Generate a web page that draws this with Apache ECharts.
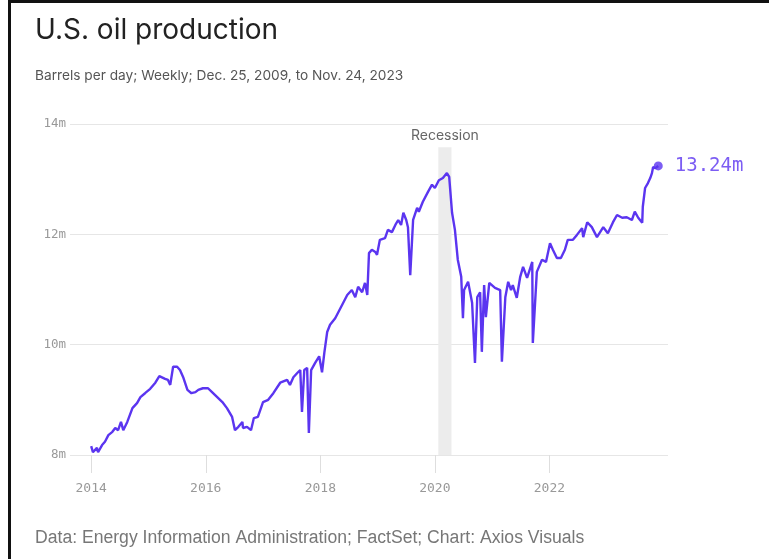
<!DOCTYPE html>
<html>
<head>
<meta charset="utf-8">
<title>U.S. oil production</title>
<script src="https://cdn.jsdelivr.net/npm/echarts@6/dist/echarts.min.js"></script>
<style>
    html, body { margin: 0; padding: 0; background: #fff; }
    #echart_show { width: 769px; height: 559px; }
</style>
</head>
<body>
<div id="echart_show"></div>
<script>
// weekly points (decimal year, million barrels per day)
var weekYears = [
    2014.00, 2014.03, 2014.10, 2014.12, 2014.19, 2014.24, 2014.30, 2014.37, 2014.42, 2014.47,
    2014.52, 2014.56, 2014.63, 2014.66, 2014.72, 2014.80, 2014.86, 2014.94, 2015.03, 2015.12,
    2015.19, 2015.29, 2015.34, 2015.38, 2015.43, 2015.50, 2015.55, 2015.61, 2015.68, 2015.75,
    2015.82, 2015.87, 2015.95, 2016.04, 2016.11, 2016.20, 2016.29, 2016.37, 2016.46, 2016.51,
    2016.57, 2016.64, 2016.65, 2016.72, 2016.79, 2016.84, 2016.91, 2017.00, 2017.09, 2017.18,
    2017.30, 2017.42, 2017.47, 2017.53, 2017.61, 2017.65, 2017.68, 2017.72, 2017.77, 2017.80,
    2017.84, 2017.91, 2017.98, 2018.03, 2018.07, 2018.12, 2018.17, 2018.26, 2018.38, 2018.47,
    2018.55, 2018.61, 2018.66, 2018.73, 2018.78, 2018.82, 2018.85, 2018.90, 2018.96, 2018.99,
    2019.04, 2019.13, 2019.18, 2019.25, 2019.31, 2019.36, 2019.41, 2019.45, 2019.50, 2019.53,
    2019.57, 2019.62, 2019.69, 2019.72, 2019.79, 2019.88, 2019.95, 2020.00, 2020.07, 2020.14,
    2020.21, 2020.25, 2020.30, 2020.35, 2020.40, 2020.46, 2020.49, 2020.51, 2020.58, 2020.65,
    2020.70, 2020.74, 2020.79, 2020.82, 2020.86, 2020.89, 2020.95, 2021.05, 2021.14, 2021.17,
    2021.23, 2021.28, 2021.33, 2021.36, 2021.43, 2021.49, 2021.54, 2021.61, 2021.70, 2021.71,
    2021.78, 2021.87, 2021.94, 2022.01, 2022.06, 2022.13, 2022.20, 2022.27, 2022.32, 2022.41,
    2022.48, 2022.57, 2022.59, 2022.66, 2022.74, 2022.83, 2022.94, 2023.02, 2023.11, 2023.18,
    2023.27, 2023.35, 2023.44, 2023.49, 2023.55, 2023.62, 2023.63, 2023.67, 2023.72, 2023.76,
    2023.79, 2023.81, 2023.85, 2023.90
];
var barrels = [
    8.16, 8.05, 8.13, 8.05, 8.18, 8.24, 8.36, 8.42, 8.49, 8.45,
    8.60, 8.45, 8.60, 8.63, 8.85, 8.94, 9.05, 9.12, 9.20, 9.31,
    9.43, 9.38, 9.36, 9.27, 9.60, 9.60, 9.54, 9.40, 9.18, 9.12,
    9.14, 9.18, 9.21, 9.21, 9.14, 9.05, 8.96, 8.85, 8.69, 8.45,
    8.51, 8.60, 8.49, 8.51, 8.45, 8.67, 8.69, 8.96, 9.00, 9.12,
    9.31, 9.36, 9.27, 9.41, 9.50, 9.54, 8.78, 9.54, 9.58, 8.40,
    9.54, 9.67, 9.79, 9.50, 9.85, 10.23, 10.36, 10.48, 10.72, 10.90,
    10.99, 10.86, 11.05, 10.95, 11.12, 10.90, 11.66, 11.72, 11.68, 11.63,
    11.90, 11.93, 12.08, 12.04, 12.17, 12.26, 12.17, 12.39, 12.26, 12.13,
    11.26, 12.26, 12.48, 12.41, 12.59, 12.77, 12.90, 12.84, 12.98, 13.02,
    13.11, 13.04, 12.39, 12.08, 11.54, 11.23, 10.48, 10.99, 11.14, 10.76,
    9.67, 10.86, 10.95, 9.87, 11.08, 10.50, 11.12, 11.03, 10.99, 9.69,
    10.86, 11.14, 10.99, 11.08, 10.85, 11.23, 11.41, 11.21, 11.50, 10.03,
    11.32, 11.54, 11.50, 11.84, 11.72, 11.57, 11.57, 11.72, 11.90, 11.90,
    11.99, 12.11, 11.95, 12.22, 12.13, 11.95, 12.13, 12.02, 12.22, 12.35,
    12.30, 12.31, 12.26, 12.41, 12.30, 12.21, 12.50, 12.84, 12.93, 13.02,
    13.11, 13.22, 13.20, 13.24
];
var yearTicks = [2014, 2016, 2018, 2020, 2022];
var recession = [2020.06, 2020.29];

var init_echarts = function () {
    var my_chart = echarts.init(document.getElementById('echart_show'), null, {renderer: 'canvas'});
    var purple = '#5b35f0';
    var monoFont = '"DejaVu Sans Mono", monospace';

    var line_data = weekYears.map(function (y, i) {
        return [y, barrels[i]];
    });
    var last = line_data[line_data.length - 1];

    var option = {
        backgroundColor: '#fff',
        animation: false,
        title: [
            {
                text: 'U.S. oil production',
                left: 30, top: 12,
                textStyle: {fontFamily: 'Inter', fontSize: 28, fontWeight: 'normal', color: '#222'}
            },
            {
                text: 'Barrels per day; Weekly; Dec. 25, 2009, to Nov. 24, 2023',
                left: 30, top: 64,
                textStyle: {fontFamily: 'Inter', fontSize: 13.7, fontWeight: 'normal', color: '#555'}
            },
            {
                text: 'Data: Energy Information Administration; FactSet; Chart: Axios Visuals',
                left: 30, top: 524,
                textStyle: {fontFamily: '"Liberation Sans", sans-serif', fontSize: 17.6, fontWeight: 'normal', color: '#777'}
            }
        ],
        graphic: [
            {type: 'rect', shape: {x: 8, y: 0, width: 3, height: 559}, style: {fill: '#111'}},
            {type: 'rect', shape: {x: 8, y: 0, width: 761, height: 3}, style: {fill: '#111'}}
        ],
        grid: {left: 70, right: 101, top: 124, bottom: 104},
        xAxis: {
            type: 'value',
            min: 2013.63,
            max: 2024.07,
            axisLine: {show: false},
            splitLine: {show: false},
            axisTick: {
                show: true,
                customValues: yearTicks,
                length: 18,
                lineStyle: {color: '#dedede'}
            },
            axisLabel: {
                customValues: yearTicks,
                margin: 27,
                fontFamily: monoFont,
                fontSize: 13,
                color: '#999',
                formatter: function (v) { return String(Math.round(v)); }
            }
        },
        yAxis: {
            type: 'value',
            min: 8,
            max: 14,
            interval: 2,
            axisLine: {show: false},
            axisTick: {show: false},
            splitLine: {lineStyle: {color: '#e6e6e6'}},
            axisLabel: {
                margin: 4,
                fontFamily: monoFont,
                fontSize: 12.5,
                color: '#999',
                formatter: function (v) { return v + 'm'; }
            }
        },
        series: [
            {
                name: 'U.S. oil production',
                type: 'line',
                data: line_data,
                showSymbol: false,
                lineStyle: {color: purple, width: 2.4},
                z: 3,
                markArea: {
                    silent: true,
                    itemStyle: {color: '#ececec'},
                    label: {
                        show: true,
                        position: 'top',
                        distance: 4,
                        fontFamily: 'Inter',
                        fontSize: 14,
                        color: '#666'
                    },
                    data: [[
                        {name: 'Recession', xAxis: recession[0], yAxis: 13.58},
                        {xAxis: recession[1], yAxis: 8}
                    ]]
                }
            },
            {
                name: 'latest',
                type: 'scatter',
                data: [last],
                symbol: 'circle',
                symbolSize: 9,
                itemStyle: {color: purple},
                z: 4,
                label: {
                    show: true,
                    position: 'right',
                    distance: 12,
                    fontFamily: monoFont,
                    fontSize: 19,
                    color: purple,
                    formatter: function (p) { return p.value[1].toFixed(2) + 'm'; }
                }
            }
        ]
    };

    my_chart.setOption(option);
};

init_echarts();
</script>
</body>
</html>
